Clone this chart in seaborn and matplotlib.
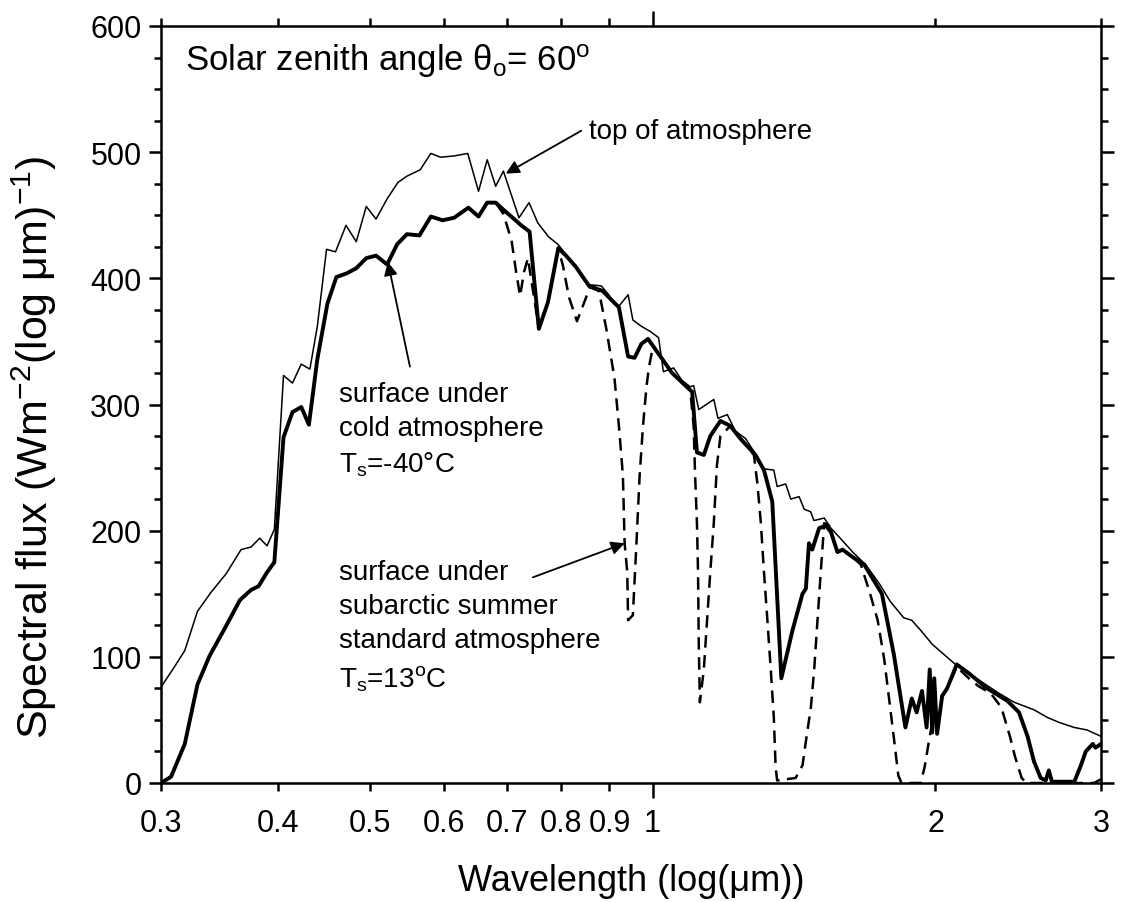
import numpy as np
import pandas as pd
import matplotlib
matplotlib.use("Agg")
import matplotlib.pyplot as plt
import seaborn as sns
from matplotlib.ticker import FixedLocator, FuncFormatter, MultipleLocator, NullFormatter

# ---------------- data ----------------
toa_wl = [0.300, 0.310, 0.318, 0.328, 0.339, 0.352, 0.365, 0.374, 0.382, 0.389, 0.396,
          0.405, 0.414, 0.423, 0.432, 0.440, 0.450, 0.460, 0.472, 0.484, 0.496, 0.508,
          0.522, 0.536, 0.548, 0.566, 0.581, 0.595, 0.615, 0.636, 0.653, 0.667, 0.681,
          0.694, 0.707, 0.721, 0.739, 0.755, 0.775, 0.793, 0.809, 0.829, 0.856, 0.882,
          0.896, 0.919, 0.942, 0.953, 0.973, 0.994, 1.015, 1.027, 1.053, 1.075, 1.097,
          1.106, 1.120, 1.162, 1.174, 1.201, 1.225, 1.256, 1.289, 1.314, 1.346, 1.357,
          1.386, 1.403, 1.432, 1.450, 1.473, 1.485, 1.523, 1.548, 1.593, 1.633, 1.686,
          1.743, 1.790, 1.850, 1.887, 1.929, 1.984, 2.041, 2.100, 2.170, 2.252, 2.338,
          2.425, 2.546, 2.630, 2.708, 2.810, 2.900, 3.000]
toa_flux = [76, 92, 105, 136, 151, 166, 185, 187, 194, 188, 201,
            323, 317, 332, 328, 362, 423, 421, 442, 429, 457, 447,
            463, 476, 481, 486, 499, 496, 497, 499, 469, 494, 473,
            485, 467, 448, 460, 444, 433, 427, 419, 410, 395, 394,
            388, 377, 387, 367, 362, 358, 353, 326, 329, 319, 314,
            315, 296, 304, 289, 292, 279, 273, 260, 249, 248, 235,
            237, 225, 227, 217, 215, 208, 210, 202, 192, 183, 173,
            158, 144, 131, 129, 121, 110, 102, 94, 87, 79, 71,
            64, 58, 52, 48, 44, 42, 37]

cold_wl = [0.300, 0.3075, 0.318, 0.328, 0.338, 0.351, 0.364, 0.374, 0.381, 0.389, 0.396,
           0.405, 0.414, 0.423, 0.431, 0.440, 0.451, 0.461, 0.473, 0.484, 0.496, 0.508,
           0.522, 0.535, 0.548, 0.565, 0.581, 0.598, 0.615, 0.637, 0.653, 0.667, 0.681,
           0.695, 0.710, 0.725, 0.740, 0.757, 0.774, 0.794, 0.809, 0.829, 0.856, 0.885,
           0.904, 0.921, 0.942, 0.957, 0.973, 0.989, 1.011, 1.049, 1.102, 1.115, 1.134,
           1.152, 1.181, 1.210, 1.240, 1.287, 1.314, 1.341, 1.371, 1.409, 1.444, 1.456,
           1.467, 1.479, 1.504, 1.529, 1.548, 1.573, 1.593, 1.633, 1.680, 1.754, 1.806,
           1.858, 1.887, 1.910, 1.935, 1.957, 1.972, 1.984, 1.994, 2.008, 2.033, 2.058,
           2.107, 2.170, 2.270, 2.386, 2.454, 2.506, 2.546, 2.588, 2.620, 2.640, 2.660,
           2.810, 2.856, 2.890, 2.940, 2.960, 3.000]
cold_flux = [0, 5, 31, 78, 101, 123, 145, 153, 156, 167, 175,
             274, 294, 298, 284, 336, 380, 401, 404, 408, 416, 418,
             411, 427, 435, 434, 449, 446, 448, 456, 449, 460, 460,
             454, 448, 442, 437, 360, 381, 424, 418, 409, 394, 390,
             383, 377, 338, 337, 348, 352, 342, 325, 310, 262, 260,
             275, 287, 283, 273, 260, 248, 223, 83, 121, 150, 154,
             190, 185, 202, 204, 199, 183, 185, 179, 173, 150, 102,
             44, 67, 56, 73, 44, 90, 40, 83, 39, 69, 75,
             94, 87, 75, 65, 56, 37, 17, 4, 2, 10, 1,
             1, 14, 25, 31, 28, 31]

subarctic_wl = [0.300, 0.3075, 0.318, 0.328, 0.338, 0.351, 0.364, 0.374, 0.381, 0.389, 0.396,
                0.405, 0.414, 0.423, 0.431, 0.440, 0.451, 0.461, 0.473, 0.484, 0.496, 0.508,
                0.522, 0.535, 0.548, 0.565, 0.581, 0.598, 0.615, 0.637, 0.653, 0.667, 0.681,
                0.694, 0.708, 0.716, 0.723, 0.730, 0.737, 0.757, 0.774, 0.794, 0.803, 0.815,
                0.831, 0.845, 0.858, 0.877, 0.893, 0.911, 0.921, 0.930, 0.934, 0.940, 0.942,
                0.953, 0.961, 0.969, 0.977, 0.985, 0.991, 1.000, 1.011, 1.049, 1.097, 1.106,
                1.110, 1.115, 1.118, 1.120, 1.123, 1.134, 1.143, 1.152, 1.162, 1.171, 1.181,
                1.210, 1.240, 1.282, 1.293, 1.304, 1.314, 1.325, 1.336, 1.346, 1.352, 1.357,
                1.420, 1.444, 1.456, 1.474, 1.486, 1.498, 1.510, 1.523, 1.541, 1.573, 1.593,
                1.633, 1.666, 1.701, 1.736, 1.764, 1.785, 1.808, 1.826, 1.840, 1.929, 1.948,
                1.968, 2.000, 2.033, 2.058, 2.107, 2.170, 2.220, 2.290, 2.350, 2.400, 2.430,
                2.470, 2.500, 2.950, 3.000]
subarctic_flux = [0, 5, 31, 78, 101, 123, 145, 153, 156, 167, 175,
                  274, 294, 298, 284, 336, 380, 401, 404, 408, 416, 418,
                  411, 427, 435, 434, 449, 446, 448, 456, 449, 460, 460,
                  451, 430, 405, 386, 405, 416, 360, 381, 424, 410, 385,
                  366, 380, 393, 390, 360, 321, 283, 244, 190, 167, 129,
                  133, 187, 244, 283, 313, 329, 344, 342, 325, 311, 283,
                  244, 206, 167, 110, 64, 90, 129, 167, 206, 252, 275,
                  283, 273, 260, 237, 206, 167, 129, 90, 52, 13, 2,
                  4, 14, 33, 60, 90, 129, 167, 206, 204, 183, 185,
                  179, 173, 152, 129, 98, 67, 33, 6, 0, 0, 13,
                  33, 63, 69, 75, 92, 83, 77, 71, 60, 37, 21,
                  4, 0, 0, 3]

wl_ticks_minor = [0.3, 0.4, 0.5, 0.6, 0.7, 0.8, 0.9, 2, 3]
wl_tick_labels = {0.3: "0.3", 0.4: "0.4", 0.5: "0.5", 0.6: "0.6", 0.7: "0.7",
                  0.8: "0.8", 0.9: "0.9", 1.0: "1", 2.0: "2", 3.0: "3"}

# ---------------- style ----------------
sns.set_theme(style="ticks")
plt.rcParams["font.family"] = ["Liberation Sans", "DejaVu Sans"]
plt.rcParams["mathtext.fontset"] = "custom"
plt.rcParams["mathtext.rm"] = "Liberation Sans"
plt.rcParams["mathtext.it"] = "Liberation Sans:italic"
plt.rcParams["mathtext.default"] = "regular"
plt.rcParams["axes.unicode_minus"] = True
for k in ["text.color", "axes.labelcolor", "xtick.color", "ytick.color",
          "xtick.labelcolor", "ytick.labelcolor", "axes.edgecolor"]:
    plt.rcParams[k] = "black"

fig = plt.figure(figsize=(11.22, 9.03), dpi=100)
fig.patch.set_facecolor("white")
ax = fig.add_axes([161 / 1122, (903 - 784) / 903, 940 / 1122, 757 / 903])
ax.set_facecolor("white")

sns.lineplot(x=subarctic_wl, y=subarctic_flux, ax=ax, color="black", lw=1.8,
             linestyle=(0, (5, 3)), estimator=None, sort=False)
sns.lineplot(x=toa_wl, y=toa_flux, ax=ax, color="black", lw=1.1,
             estimator=None, sort=False)
sns.lineplot(x=cold_wl, y=cold_flux, ax=ax, color="black", lw=2.8,
             estimator=None, sort=False)

ax.set_xscale("log")
ax.set_xlim(0.3, 3)
ax.set_ylim(0, 600)

ax.xaxis.set_major_locator(FixedLocator([1.0]))
ax.xaxis.set_minor_locator(FixedLocator(wl_ticks_minor))
fmt = FuncFormatter(lambda v, p: wl_tick_labels.get(round(v, 2), ""))
ax.xaxis.set_major_formatter(fmt)
ax.xaxis.set_minor_formatter(fmt)
ax.yaxis.set_major_locator(MultipleLocator(100))
ax.yaxis.set_minor_locator(MultipleLocator(25))
ax.yaxis.set_minor_formatter(NullFormatter())

for s in ax.spines.values():
    s.set_linewidth(1.8)
    s.set_color("black")
    s.set_visible(True)

ax.tick_params(axis="both", which="both", direction="out", top=True, right=True,
               labeltop=False, labelright=False, width=1.8, color="black",
               labelsize=22, labelcolor="black")
ax.tick_params(axis="x", which="minor", length=6, pad=12)
ax.tick_params(axis="x", which="major", length=11, pad=7)
ax.tick_params(axis="y", which="major", length=9, pad=5)
ax.tick_params(axis="y", which="minor", length=5)

ax.set_xlabel("Wavelength (log(μm))", fontsize=26, labelpad=18)
ax.set_ylabel(r"Spectral flux (Wm$^{-2}$(log μm)$^{-1}$)", fontsize=31)
ax.yaxis.set_label_coords(-0.108, 0.445)

# ---------------- annotations ----------------
ax.text(0.318, 573, r"Solar zenith angle θ$_{\rm o}$= 60$^{\rm o}$", fontsize=25,
        ha="left", va="center")
ax.text(0.856, 517, "top of atmosphere", fontsize=20, ha="left", va="center")
ax.annotate("", xy=(0.698, 483), xytext=(0.840, 517),
            arrowprops=dict(arrowstyle="-|>", color="black", lw=1.3,
                            mutation_scale=20, shrinkA=0, shrinkB=0))

for yy, s in zip([308, 281, 253], ["surface under", "cold atmosphere", r"T$_{\rm s}$=-40°C"]):
    ax.text(0.464, yy, s, fontsize=20, ha="left", va="center")
ax.annotate("", xy=(0.523, 413), xytext=(0.552, 330),
            arrowprops=dict(arrowstyle="-|>", color="black", lw=1.3,
                            mutation_scale=20, shrinkA=0, shrinkB=0))

for yy, s in zip([167, 140, 113, 83], ["surface under", "subarctic summer",
                                       "standard atmosphere", r"T$_{\rm s}$=13$^{\rm o}$C"]):
    ax.text(0.464, yy, s, fontsize=20, ha="left", va="center")
ax.annotate("", xy=(0.934, 190), xytext=(0.746, 163),
            arrowprops=dict(arrowstyle="-|>", color="black", lw=1.3,
                            mutation_scale=20, shrinkA=0, shrinkB=0))

fig.savefig("out.png", dpi=100, facecolor="white")
